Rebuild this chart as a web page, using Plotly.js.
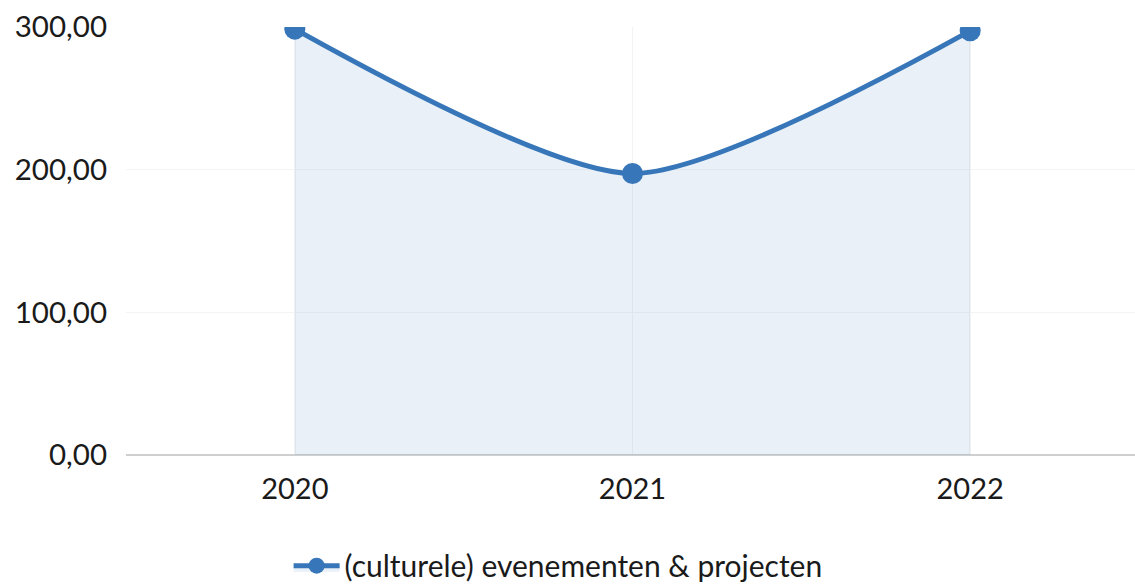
<!DOCTYPE html>
<html><head><meta charset="utf-8">
<script src="https://cdn.plot.ly/plotly-3.0.1.min.js"></script>
<style>html,body{margin:0;padding:0;background:#fff;overflow:hidden}#chart{width:1139px;height:588px}</style>
</head><body><div id="chart"></div>
<script>
const years = ['2020', '2021', '2022'];
const values = [298.5, 197.3, 297.3];
const seriesName = '(culturele) evenementen & projecten';
const yTicks = [0, 100, 200, 300];
const yTickLabels = ['0,00', '100,00', '200,00', '300,00'];

const trace = {
  x: years, y: values, name: seriesName,
  type: 'scatter', mode: 'lines+markers',
  line: {color: '#3776b8', width: 5, shape: 'spline', smoothing: 0.7},
  marker: {color: '#3776b8', size: 21},
  fill: 'tozeroy', fillcolor: 'rgba(55,118,184,0.11)'
};
const layout = {
  width: 1139, height: 588,
  margin: {l: 126, r: 0, t: 27, b: 133},
  paper_bgcolor: '#fff', plot_bgcolor: '#fff',
  font: {family: 'Lato, sans-serif', size: 29, color: '#1a1a1a'},
  showlegend: true,
  legend: {orientation: 'h', x: 0.49, xanchor: 'center', xref: 'container', yref: 'container', y: 0.038, yanchor: 'middle',
    itemwidth: 46, font: {size: 30}},
  xaxis: {type: 'category', range: [-0.5, 2.5], showgrid: true, gridcolor: '#f3f3f3', gridwidth: 1.5,
    showline: false, zeroline: false, ticks: '', ticklabelstandoff: 14, tickfont: {size: 29}},
  yaxis: {range: [0, 300], tickvals: yTicks, ticktext: yTickLabels, showgrid: true, gridcolor: '#f4f4f4',
    zeroline: true, zerolinecolor: '#cfcfcf', zerolinewidth: 2, ticks: '', ticklabelstandoff: 18,
    tickfont: {size: 29.5}, automargin: false}
};
Plotly.newPlot('chart', [trace], layout, {displayModeBar: false, staticPlot: true});
</script></body></html>
